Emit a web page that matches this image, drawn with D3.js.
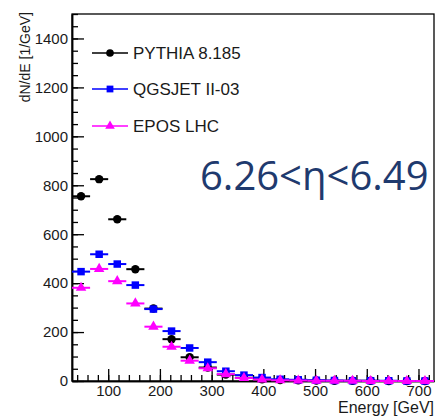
<!DOCTYPE html>
<html>
<head>
<meta charset="utf-8">
<script src="https://cdn.jsdelivr.net/npm/d3@7"></script>
<style>
body { margin: 0; background: #fff; }
text { font-family: "Liberation Sans", Arial, sans-serif; }
</style>
</head>
<body>
<script>
// bin centres [GeV], 35 GeV wide bins
var energies = [47.5, 82.5, 117.5, 152.5, 187.5, 222.5, 257.5, 292.5, 327.5, 362.5,
                397.5, 432.5, 467.5, 502.5, 537.5, 572.5, 607.5, 642.5, 677.5, 712.5];
var binWidth = 35;

var pythia  = [755, 825, 661, 457, 296, 171, 97, 55, 26, 13, 7, 4, 3, 2, 1, 1, 1, 0, 0, 0];
var qgsjet  = [447, 518, 478, 392, 294, 204, 135, 77, 40, 24, 14, 7, 5, 3, 2, 1, 1, 1, 0, 0];
var epos    = [381, 458, 408, 317, 222, 140, 83, 52, 28, 12, 6, 3, 2, 1, 1, 1, 0, 0, 0, 0];

var seriesNames = ["PYTHIA 8.185", "QGSJET II-03", "EPOS LHC"];
var seriesColors = ["#000000", "#0000ff", "#ff00ff"];
var seriesShapes = [d3.symbolCircle, d3.symbolSquare, d3.symbolTriangle];

var yMajor = [0, 200, 400, 600, 800, 1000, 1200, 1400];
var xMajor = [100, 200, 300, 400, 500, 600, 700];

var margin = {top: 14, right: 7, bottom: 37, left: 72};
var width = 441 - margin.left - margin.right;
var height = 418 - margin.top - margin.bottom;

var xScale = d3.scaleLinear().domain([30, 730]).range([0, width]);
var yScale = d3.scaleLinear().domain([0, 1500]).range([height, 0]);

var svg = d3.select("body").append("svg")
    .attr("width", 441)
    .attr("height", 418)
    .append("g")
    .attr("transform", "translate(" + margin.left + "," + margin.top + ")");

function drawAxes(){
	// minor ticks first, inward like ROOT
	svg.append("g")
	.attr("transform", "translate(0," + height + ")")
	.call(d3.axisBottom(xScale).tickValues(d3.range(40, 730, 20)).tickSize(-6).tickSizeOuter(0).tickFormat(""));
	svg.append("g")
	.call(d3.axisLeft(yScale).tickValues(d3.range(0, 1501, 50)).tickSize(-6).tickSizeOuter(0).tickFormat(""));

	var xa = svg.append("g")
	.attr("transform", "translate(0," + height + ")")
	.call(d3.axisBottom(xScale).tickValues(xMajor).tickSize(-12).tickSizeOuter(0).tickPadding(4).tickFormat(d3.format("d")));
	xa.selectAll("text").style("font-size", "15px").attr("fill", "#1a1a1a");

	var ya = svg.append("g")
	.call(d3.axisLeft(yScale).tickValues(yMajor).tickSize(-12).tickSizeOuter(0).tickPadding(4).tickFormat(d3.format("d")));
	ya.selectAll("text").style("font-size", "15px").attr("fill", "#1a1a1a");

	svg.selectAll(".tick line").attr("stroke", "#000").attr("stroke-width", 1.3);
	svg.selectAll(".domain").attr("stroke", "#000").attr("stroke-width", 1.5);

	// frame
	svg.append("rect")
	.attr("x", 0).attr("y", 0)
	.attr("width", width).attr("height", height)
	.attr("fill", "none")
	.attr("stroke", "#000")
	.attr("stroke-width", 1.3);

	svg.append("text")
	.attr("x", width)
	.attr("y", height + 32)
	.attr("text-anchor", "end")
	.style("font-size", "16px")
	.attr("fill", "#1a1a1a")
	.text("Energy [GeV]");

	svg.append("text")
	.attr("transform", "translate(-42,-2) rotate(-90)")
	.attr("text-anchor", "end")
	.style("font-size", "14px")
	.attr("fill", "#1a1a1a")
	.text("dN/dE [1/GeV]");
}

function drawSeries(values, k){
	var g = svg.append("g");
	var sym = d3.symbol().type(seriesShapes[k]).size(k == 2 ? 48 : 56);
	for (var i = 0; i < energies.length; i++){
		g.append("line")
		.attr("x1", Math.max(0, xScale(energies[i] - binWidth / 2)))
		.attr("x2", Math.min(width, xScale(energies[i] + binWidth / 2)))
		.attr("y1", yScale(values[i]))
		.attr("y2", yScale(values[i]))
		.attr("stroke", seriesColors[k])
		.attr("stroke-width", 2);
		g.append("path")
		.attr("d", sym())
		.attr("transform", "translate(" + xScale(energies[i]) + "," + yScale(values[i]) + ")")
		.attr("fill", seriesColors[k]);
	}
}

function drawLegend(){
	var ys = [39, 75, 112];
	for (var k = 0; k < seriesNames.length; k++){
		var g = svg.append("g").attr("transform", "translate(20," + ys[k] + ")");
		g.append("line")
		.attr("x1", 0).attr("x2", 36)
		.attr("stroke", seriesColors[k])
		.attr("stroke-width", 1.6);
		g.append("path")
		.attr("d", d3.symbol().type(seriesShapes[k]).size(k == 2 ? 40 : 46)())
		.attr("transform", "translate(18,0)")
		.attr("fill", seriesColors[k]);
		g.append("text")
		.attr("x", 41)
		.attr("y", 6)
		.style("font-size", "17px")
		.attr("fill", "#1a1a1a")
		.text(seriesNames[k]);
	}
}

drawAxes();
drawSeries(pythia, 0);
drawSeries(qgsjet, 1);
drawSeries(epos, 2);
drawLegend();

// pseudorapidity range label (clipped by the page edge in the original slide; kept inside here)
svg.append("text")
.attr("x", 128)
.attr("y", 176)
.style("font-family", "'Open Sans', 'Noto Sans', sans-serif")
.style("font-size", "40px")
.attr("fill", "#1f3a6e")
.text("6.26<η<6.49");
</script>
</body>
</html>
